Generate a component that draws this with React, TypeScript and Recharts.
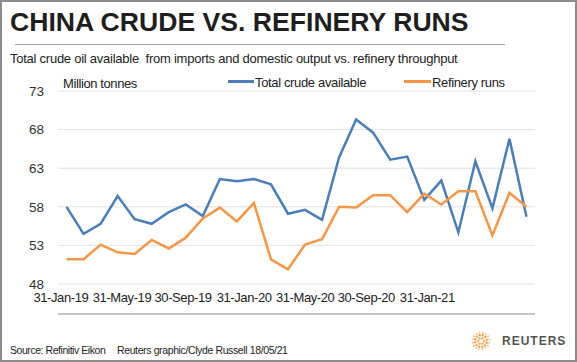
import React from "react";
import { CartesianGrid, Line, LineChart, XAxis, YAxis } from "recharts";

const months = [
	"Jan-19", "Feb-19", "Mar-19", "Apr-19", "May-19", "Jun-19", "Jul-19", "Aug-19",
	"Sep-19", "Oct-19", "Nov-19", "Dec-19", "Jan-20", "Feb-20", "Mar-20", "Apr-20",
	"May-20", "Jun-20", "Jul-20", "Aug-20", "Sep-20", "Oct-20", "Nov-20", "Dec-20",
	"Jan-21", "Feb-21", "Mar-21", "Apr-21",
];
const totalCrude = [
	58.0, 54.5, 55.8, 59.4, 56.4, 55.8, 57.3, 58.3, 56.8, 61.6, 61.3, 61.6, 60.9, 57.1,
	57.6, 56.3, 64.4, 69.3, 67.6, 64.1, 64.5, 58.9, 61.4, 54.7, 63.9, 57.8, 66.8, 56.7,
];
const refineryRuns = [
	51.2, 51.2, 53.1, 52.1, 51.9, 53.7, 52.6, 54.0, 56.5, 57.9, 56.1, 58.5, 51.2, 49.9,
	53.1, 53.8, 58.0, 57.9, 59.5, 59.5, 57.3, 59.7, 58.3, 60.0, 60.0, 54.3, 59.8, 58.0,
];
const axisLabels = [
	"31-Jan-19", "31-May-19", "30-Sep-19", "31-Jan-20", "31-May-20", "30-Sep-20", "31-Jan-21",
];
const yTicks = [48, 53, 58, 63, 68, 73];
const seriesNames = ["Total crude available", "Refinery runs"];

const BLUE = "#4a7ebb";
const ORANGE = "#f79646";
const FONT = '"Liberation Sans", Arial, sans-serif';

const data = months.map((m, i) => ({
	i,
	month: m,
	crude: totalCrude[i],
	runs: refineryRuns[i],
}));

// excel spaced the date labels a bit tighter than the categories
const LABEL_START = -0.33;
const LABEL_STEP = 3.585;
const labelTicks = axisLabels.map((_, k) => LABEL_START + k * LABEL_STEP);
const boundaryTicks = [...months.map((_, i) => i - 0.5), months.length - 0.5];

const abs = (left: number, top: number, extra: React.CSSProperties = {}): React.CSSProperties => ({
	position: "absolute",
	left,
	top,
	lineHeight: 1,
	whiteSpace: "nowrap",
	...extra,
});

const ReutersLogo = () => {
	const dots: JSX.Element[] = [];
	[3, 6, 8.5].forEach((r, ring) => {
		const n = [6, 12, 16][ring];
		for (let k = 0; k < n; k++) {
			const a = (k / n) * Math.PI * 2 + ring * 0.3;
			dots.push(
				<circle
					key={`${ring}-${k}`}
					cx={10 + r * Math.cos(a)}
					cy={10 + r * Math.sin(a)}
					r={[1.3, 1.2, 1.0][ring]}
					fill={["#f6b26b", "#f5a04a", "#f8c08a"][ring]}
				/>
			);
		}
	});
	return (
		<svg width={20} height={20} style={{ position: "absolute", left: 471, top: 331 }}>
			{dots}
		</svg>
	);
};

export default function App() {
	return (
		<div
			style={{
				position: "absolute",
				left: 0,
				top: 0,
				width: 577,
				height: 362,
				background: "#fff",
				fontFamily: FONT,
				color: "#222",
				overflow: "hidden",
			}}
		>
			<div style={abs(10, 9, { fontSize: 26.6, fontWeight: "bold", color: "#1e1e1e" })}>
				CHINA CRUDE VS. REFINERY RUNS
			</div>
			<div style={abs(15, 44, { width: 490, height: 1, background: "#a6a6a6" })} />
			<div style={abs(10, 52, { fontSize: 13, letterSpacing: -0.25 })}>
				Total crude oil available&nbsp; from imports and domestic output vs. refinery throughput
			</div>

			<LineChart
				width={577}
				height={362}
				data={data}
				margin={{ top: 91, right: 42, bottom: 42, left: 0 }}
				style={{ position: "absolute", left: 0, top: 0 }}
			>
				<CartesianGrid
					vertical={false}
					stroke="#e2e2e2"
					strokeWidth={1}
					xAxisId="main"
				/>
				<YAxis
					width={58}
					domain={[48, 73]}
					ticks={yTicks}
					interval={0}
					axisLine={false}
					tickLine={false}
					tickMargin={8}
					tick={{ fontSize: 13.5, fill: "#333", fontFamily: FONT }}
				/>
				<XAxis
					xAxisId="main"
					dataKey="i"
					type="number"
					domain={[-0.5, months.length - 0.5]}
					allowDataOverflow
					ticks={boundaryTicks}
					interval={0}
					height={6}
					tickSize={5}
					tick={false}
					axisLine={{ stroke: "#8c8c8c" }}
					tickLine={{ stroke: "#8c8c8c" }}
				/>
				<XAxis
					xAxisId="labels"
					dataKey="i"
					type="number"
					domain={[-0.5, months.length - 0.5]}
					allowDataOverflow
					ticks={labelTicks}
					interval={0}
					height={30}
					tickSize={0}
					tickMargin={9}
					axisLine={false}
					tickLine={false}
					tickFormatter={(_v: number, idx: number) => axisLabels[idx]}
					tick={{ fontSize: 13, fill: "#222", fontFamily: FONT, letterSpacing: -0.4 }}
				/>
				<Line
					xAxisId="main"
					type="linear"
					dataKey="crude"
					name={seriesNames[0]}
					stroke={BLUE}
					strokeWidth={2.5}
					dot={false}
					isAnimationActive={false}
				/>
				<Line
					xAxisId="main"
					type="linear"
					dataKey="runs"
					name={seriesNames[1]}
					stroke={ORANGE}
					strokeWidth={2.5}
					dot={false}
					isAnimationActive={false}
				/>
			</LineChart>

			<div style={abs(63, 77, { fontSize: 13, letterSpacing: -0.4 })}>Million tonnes</div>
			<div style={abs(228, 80, { width: 26, height: 3, background: BLUE })} />
			<div style={abs(255, 76, { fontSize: 13, letterSpacing: -0.35 })}>{seriesNames[0]}</div>
			<div style={abs(404, 80, { width: 27, height: 3, background: ORANGE })} />
			<div style={abs(432, 76, { fontSize: 13, letterSpacing: -0.35 })}>{seriesNames[1]}</div>

			<div style={abs(10, 345, { fontSize: 10.5, letterSpacing: -0.45 })}>
				Source: Refinitiv Eikon
			</div>
			<div style={abs(117, 345, { fontSize: 10.5, letterSpacing: -0.38 })}>
				Reuters graphic/Clyde Russell 18/05/21
			</div>
			<ReutersLogo />
			<div style={abs(502, 335, { fontSize: 12, fontWeight: "bold", color: "#555", letterSpacing: 1 })}>
				REUTERS
			</div>

			<div
				style={{
					position: "absolute",
					inset: 0,
					border: "2px solid #8c8c8c",
					pointerEvents: "none",
				}}
			/>
		</div>
	);
}
